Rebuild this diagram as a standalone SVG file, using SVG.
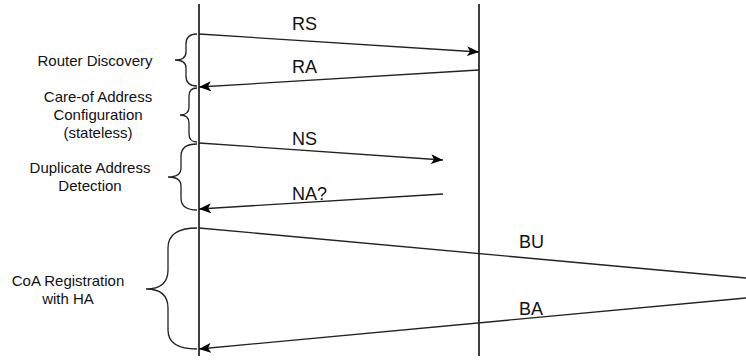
<svg xmlns="http://www.w3.org/2000/svg" width="746" height="360" viewBox="0 0 746 360">
<defs>
<style>
.life{stroke:#000;stroke-width:1.5;fill:none}
.msg{stroke:#222;stroke-width:1.3;fill:none}
.brace{stroke:#222;stroke-width:1.3;fill:none}
.lbl{font-family:"Liberation Sans",Arial,sans-serif;font-size:15px;fill:#111;text-anchor:middle}
.mlbl{font-family:"Liberation Sans",Arial,sans-serif;font-size:18px;fill:#111}
</style>
<marker id="ah" viewBox="0 0 12 10" refX="12" refY="5" markerWidth="12" markerHeight="10" markerUnits="userSpaceOnUse" orient="auto">
<path d="M0,0 L12,5 L0,10 L3,5 Z" fill="#000"/>
</marker>
</defs>
<rect width="746" height="360" fill="#fff"/>
<g id="lifelines">
<line class="life" x1="199" y1="4" x2="199" y2="356"/>
<line class="life" x1="479" y1="4" x2="479" y2="356"/>
</g>
<g id="connectors">
<line class="msg" x1="199" y1="34" x2="479" y2="52" marker-end="url(#ah)"/>
<line class="msg" x1="479" y1="70" x2="199" y2="87" marker-end="url(#ah)"/>
<line class="msg" x1="199" y1="143" x2="443" y2="160" marker-end="url(#ah)"/>
<line class="msg" x1="443" y1="194" x2="199" y2="209" marker-end="url(#ah)"/>
<line class="msg" x1="199" y1="228" x2="746" y2="278"/>
<line class="msg" x1="746" y1="298" x2="199" y2="349" marker-end="url(#ah)"/>
<text class="mlbl" x="292" y="30">RS</text>
<text class="mlbl" x="292" y="73">RA</text>
<text class="mlbl" x="292" y="145">NS</text>
<text class="mlbl" x="292" y="200">NA?</text>
<text class="mlbl" x="519" y="248">BU</text>
<text class="mlbl" x="519" y="315">BA</text>
</g>
<g id="router-discovery">
<path class="brace" d="M197,34 Q186,34 186,44 L186,52 Q186,60 175,60 Q186,60 186,68 L186,76 Q186,86 197,86"/>
<text class="lbl" x="95" y="66">Router Discovery</text>
</g>
<g id="coa-config">
<path class="brace" d="M197,88 Q189,88 189,96 L189,107 Q189,115 180,115 Q189,115 189,123 L189,134 Q189,142 197,142"/>
<text class="lbl" x="98" y="102">Care-of Address</text>
<text class="lbl" x="98" y="120">Configuration</text>
<text class="lbl" x="98" y="138">(stateless)</text>
</g>
<g id="dad">
<path class="brace" d="M197,144 Q181,144 181,156 L181,168 Q181,177 168,177 Q181,177 181,186 L181,198 Q181,210 197,210"/>
<text class="lbl" x="90" y="173">Duplicate Address</text>
<text class="lbl" x="90" y="191">Detection</text>
</g>
<g id="coa-registration">
<path class="brace" d="M197,228 Q168,228 168,248 L168,270 Q168,289 146,289 Q168,289 168,308 L168,330 Q168,349 197,349"/>
<text class="lbl" x="68" y="286">CoA Registration</text>
<text class="lbl" x="68" y="304">with HA</text>
</g>
</svg>
